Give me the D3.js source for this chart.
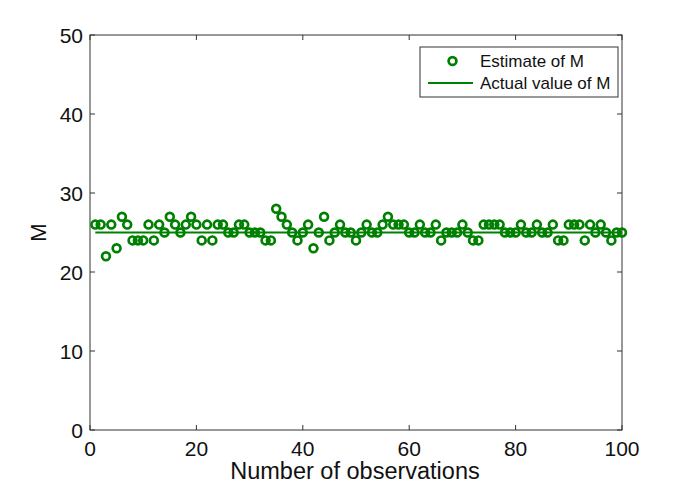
<!DOCTYPE html>
<html><head><meta charset="utf-8">
<script src="https://cdn.jsdelivr.net/npm/d3@7/dist/d3.min.js"></script>
<style>body{margin:0;background:#fff}svg{display:block}text{font-family:"Liberation Sans",Arial,sans-serif}</style>
</head><body>
<svg id="c" width="685" height="485"></svg>
<script>
const observations = d3.range(1, 101);
const estimates = [26,26,22,26,23,27,26,24,24,24,
26,24,26,25,27,26,25,26,27,26,
24,26,24,26,26,25,25,26,26,25,
25,25,24,24,28,27,26,25,24,25,
26,23,25,27,24,25,26,25,25,24,
25,26,25,25,26,27,26,26,26,25,
25,26,25,25,26,24,25,25,25,26,
25,24,24,26,26,26,26,25,25,25,
26,25,25,26,25,25,26,24,24,26,
26,26,24,26,25,26,25,24,25,25];
const actualValue = 25;
const xTicks = [0,20,40,60,80,100];
const yTicks = [0,10,20,30,40,50];
const legendLabels = ["Estimate of M","Actual value of M"];
const green = "#008000";

const svg = d3.select("#c");
const L=90, R=622, T=35, B=430;
const x = d3.scaleLinear().domain([0,100]).range([L,R]);
const y = d3.scaleLinear().domain([0,50]).range([B,T]);

// axes box
svg.append("rect").attr("x",L).attr("y",T).attr("width",R-L).attr("height",B-T)
  .attr("fill","none").attr("stroke","#333").attr("stroke-width",1);

const tl = 5;
const g = svg.append("g").attr("stroke","#333").attr("stroke-width",1);
xTicks.forEach(t=>{
  g.append("line").attr("x1",x(t)).attr("x2",x(t)).attr("y1",B).attr("y2",B-tl);
  g.append("line").attr("x1",x(t)).attr("x2",x(t)).attr("y1",T).attr("y2",T+tl);
});
yTicks.forEach(t=>{
  g.append("line").attr("x1",L).attr("x2",L+tl).attr("y1",y(t)).attr("y2",y(t));
  g.append("line").attr("x1",R).attr("x2",R-tl).attr("y1",y(t)).attr("y2",y(t));
});
svg.selectAll(".xt").data(xTicks).enter().append("text")
  .attr("x",d=>x(d)).attr("y",B+26).attr("text-anchor","middle")
  .attr("font-size",21).attr("fill","#111").text(d=>d);
svg.selectAll(".yt").data(yTicks).enter().append("text")
  .attr("x",L-7).attr("y",d=>y(d)+8).attr("text-anchor","end")
  .attr("font-size",21).attr("fill","#111").text(d=>d);

svg.append("text").attr("x",(L+R)/2-1).attr("y",479).attr("text-anchor","middle")
  .attr("font-size",23.5).attr("fill","#111").text("Number of observations");
svg.append("text").attr("transform",`translate(46,${(T+B)/2}) rotate(-90)`)
  .attr("text-anchor","middle").attr("font-size",22).attr("fill","#111").text("M");

// actual value line
svg.append("line").attr("x1",x(1)).attr("x2",x(100)).attr("y1",y(actualValue)).attr("y2",y(actualValue))
  .attr("stroke",green).attr("stroke-width",2);

// estimates
svg.selectAll(".pt").data(observations).enter().append("circle")
  .attr("cx",d=>x(d)).attr("cy",(d,i)=>y(estimates[i])).attr("r",3.9)
  .attr("fill","none").attr("stroke",green).attr("stroke-width",2.7);

// legend
const lg = svg.append("g");
lg.append("rect").attr("x",420).attr("y",47).attr("width",198).attr("height",50)
  .attr("fill","#fff").attr("stroke","#333").attr("stroke-width",1);
lg.append("circle").attr("cx",452.5).attr("cy",61).attr("r",3.9)
  .attr("fill","none").attr("stroke",green).attr("stroke-width",2.7);
lg.append("line").attr("x1",428).attr("x2",473).attr("y1",83).attr("y2",83)
  .attr("stroke",green).attr("stroke-width",2);
lg.append("text").attr("x",480).attr("y",67).attr("font-size",17).attr("fill","#111").text(legendLabels[0]);
lg.append("text").attr("x",480).attr("y",89).attr("font-size",17).attr("fill","#111").text(legendLabels[1]);
</script>
</body></html>
